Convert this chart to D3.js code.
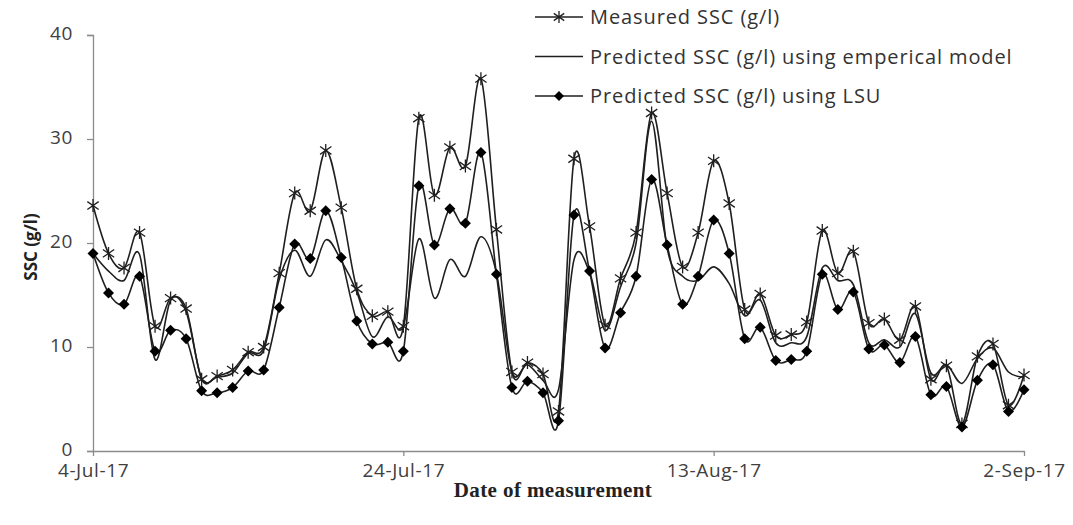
<!DOCTYPE html>
<html>
<head>
<meta charset="utf-8">
<script src="https://cdn.jsdelivr.net/npm/d3@7"></script>
<style>
  html, body { margin: 0; padding: 0; background: #fff; }
  svg { display: block; }
  .tick text { font-family: "Open Sans", sans-serif; font-size: 19px; letter-spacing: 0.6px; fill: #404040; }
</style>
</head>
<body>
<svg id="chart" width="1073" height="525"></svg>
<script>
// Daily sampling dates, 4 July – 2 September 2017
const dates = [
  "2017-07-04","2017-07-05","2017-07-06","2017-07-07","2017-07-08","2017-07-09","2017-07-10","2017-07-11",
  "2017-07-12","2017-07-13","2017-07-14","2017-07-15","2017-07-16","2017-07-17","2017-07-18","2017-07-19",
  "2017-07-20","2017-07-21","2017-07-22","2017-07-23","2017-07-24","2017-07-25","2017-07-26","2017-07-27",
  "2017-07-28","2017-07-29","2017-07-30","2017-07-31","2017-08-01","2017-08-02","2017-08-03","2017-08-04",
  "2017-08-05","2017-08-06","2017-08-07","2017-08-08","2017-08-09","2017-08-10","2017-08-11","2017-08-12",
  "2017-08-13","2017-08-14","2017-08-15","2017-08-16","2017-08-17","2017-08-18","2017-08-19","2017-08-20",
  "2017-08-21","2017-08-22","2017-08-23","2017-08-24","2017-08-25","2017-08-26","2017-08-27","2017-08-28",
  "2017-08-29","2017-08-30","2017-08-31","2017-09-01","2017-09-02"
];

// Measured suspended sediment concentration (g/l)
const measured = [
  23.6, 19.0, 17.6, 21.0, 12.0, 14.7, 13.7, 6.9, 7.2, 7.8, 9.5, 10.0, 17.1, 24.8, 23.1, 28.9,
  23.4, 15.6, 13.0, 13.4, 12.0, 32.0, 24.6, 29.2, 27.4, 35.8, 21.3, 7.6, 8.5, 7.4, 3.8, 28.1,
  21.6, 12.1, 16.6, 21.0, 32.5, 24.8, 17.7, 21.0, 27.9, 23.8, 13.6, 15.1, 11.1, 11.2, 12.4, 21.2,
  17.1, 19.2, 12.3, 12.7, 10.7, 13.9, 6.9, 8.2, 2.6, 9.1, 10.3, 4.4, 7.3
];

// Predicted SSC (g/l), empirical model
const empirical = [
  19.0, 17.3, 16.4, 18.9, 8.8, 14.5, 13.4, 7.0, 7.1, 7.5, 9.4, 9.7, 16.5, 19.3, 16.8, 20.3,
  18.3, 15.3, 11.0, 12.9, 12.0, 20.4, 14.7, 18.4, 16.8, 20.6, 17.1, 7.6, 8.3, 6.8, 5.9, 18.4,
  17.2, 11.6, 15.8, 20.0, 31.7, 19.5, 16.8, 16.4, 17.7, 16.1, 13.0, 14.5, 10.4, 10.4, 11.0, 17.6,
  16.4, 16.0, 10.4, 10.7, 10.0, 13.2, 7.5, 8.3, 6.5, 8.9, 9.9, 7.6, 7.1
];

// Predicted SSC (g/l), LSU
const lsu = [
  19.0, 15.2, 14.1, 16.8, 9.6, 11.6, 10.8, 5.8, 5.6, 6.1, 7.7, 7.8, 13.8, 19.9, 18.5, 23.1,
  18.6, 12.5, 10.3, 10.45, 9.6, 25.5, 19.8, 23.3, 21.9, 28.7, 17.0, 6.1, 6.7, 5.6, 2.9, 22.7,
  17.3, 9.9, 13.3, 16.8, 26.1, 19.8, 14.1, 16.8, 22.2, 19.0, 10.8, 11.9, 8.7, 8.8, 9.6, 17.0,
  13.6, 15.3, 9.8, 10.2, 8.5, 11.0, 5.4, 6.2, 2.3, 6.8, 8.3, 3.8, 5.9
];

const yTicks = [0, 10, 20, 30, 40];
const xTickDates = ["2017-07-04", "2017-07-24", "2017-08-13", "2017-09-02"];
const legendLabels = [
  "Measured SSC (g/l)",
  "Predicted SSC (g/l) using emperical model",
  "Predicted SSC (g/l) using LSU"
];

const parse = d3.timeParse("%Y-%m-%d");
const days = dates.map(parse);

const svg = d3.select("#chart");
const plot = { left: 93, right: 1024, top: 35, bottom: 451 };

const x = d3.scaleTime()
  .domain([parse(dates[0]), parse(dates[dates.length - 1])])
  .range([plot.left, plot.right]);
const y = d3.scaleLinear().domain([0, 40]).range([plot.bottom, plot.top]);

const axisColor = "#8c8c8c";
const ink = "#1f1f1f";

// Y axis
const yAxis = svg.append("g")
  .attr("transform", `translate(${plot.left},0)`)
  .call(d3.axisLeft(y).tickValues(yTicks).tickSize(6).tickPadding(14));
yAxis.select(".domain").attr("stroke", axisColor).attr("stroke-width", 1.3);
yAxis.selectAll(".tick line").attr("stroke", axisColor).attr("stroke-width", 1.3);
yAxis.selectAll(".tick text").attr("dy", "0.26em");

// X axis
const fmt = d3.timeFormat("%-d-%b-%y");
const xAxis = svg.append("g")
  .attr("transform", `translate(0,${plot.bottom})`)
  .call(d3.axisBottom(x).tickValues(xTickDates.map(parse)).tickFormat(fmt).tickSize(5).tickSizeOuter(0).tickPadding(9));
xAxis.select(".domain").attr("stroke", axisColor).attr("stroke-width", 1.3);
xAxis.selectAll(".tick line").attr("stroke", axisColor).attr("stroke-width", 1.3);
xAxis.selectAll(".tick text").attr("dy", "0.62em");

// Axis titles
svg.append("text")
  .attr("transform", `translate(31,${(plot.top + plot.bottom) / 2 + 4}) rotate(-90)`)
  .attr("text-anchor", "middle")
  .attr("dy", "0.35em")
  .attr("font-family", "Open Sans, sans-serif")
  .attr("font-weight", "bold")
  .attr("font-size", 17)
  .attr("fill", "#222")
  .text("SSC (g/l)");

svg.append("text")
  .attr("x", 553).attr("y", 497)
  .attr("text-anchor", "middle")
  .attr("font-family", "Liberation Serif, serif")
  .attr("font-weight", "bold")
  .attr("font-size", 21)
  .attr("letter-spacing", 0.4)
  .attr("fill", "#222")
  .text("Date of measurement");

// Series lines (smoothed)
const line = d3.line()
  .x((d, i) => x(days[i]))
  .y(d => y(d))
  .curve(d3.curveCardinal.tension(0));

const series = [measured, empirical, lsu];
series.forEach(s => {
  svg.append("path")
    .datum(s)
    .attr("fill", "none")
    .attr("stroke", ink)
    .attr("stroke-width", 1.6)
    .attr("d", line);
});

// Star marker: vertical stroke plus an X
function star(g, cx, cy, r) {
  const p = `M${cx},${cy - r}L${cx},${cy + r}` +
            `M${cx - r * 0.87},${cy - r * 0.6}L${cx + r * 0.87},${cy + r * 0.6}` +
            `M${cx - r * 0.87},${cy + r * 0.6}L${cx + r * 0.87},${cy - r * 0.6}`;
  g.append("path").attr("d", p).attr("stroke", ink).attr("stroke-width", 1.3).attr("fill", "none");
}
function diamond(g, cx, cy, r) {
  g.append("path")
    .attr("d", `M${cx},${cy - r}L${cx + r},${cy}L${cx},${cy + r}L${cx - r},${cy}Z`)
    .attr("fill", "#000");
}

const markers = svg.append("g");
measured.forEach((v, i) => star(markers, x(days[i]), y(v), 6.5));
lsu.forEach((v, i) => diamond(markers, x(days[i]), y(v), 5.5));

// Legend
const legend = svg.append("g");
const rowsY = [17, 56.5, 96];
legendLabels.forEach((label, i) => {
  const ly = rowsY[i];
  legend.append("line")
    .attr("x1", 535).attr("x2", 583).attr("y1", ly).attr("y2", ly)
    .attr("stroke", ink).attr("stroke-width", 1.6);
  if (i === 0) star(legend, 559, ly, 6);
  if (i === 2) diamond(legend, 559, ly, 5);
  legend.append("text")
    .attr("x", 590).attr("y", ly).attr("dy", "0.35em")
    .attr("font-family", "Open Sans, sans-serif")
    .attr("font-size", 20)
    .attr("letter-spacing", 0.9)
    .attr("fill", "#333")
    .text(label);
});
</script>
</body>
</html>
